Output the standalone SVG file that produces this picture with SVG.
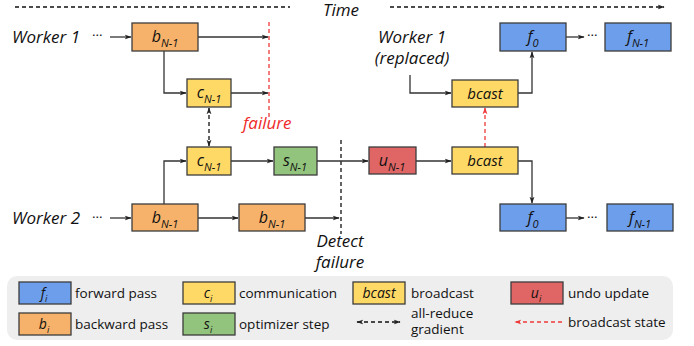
<svg xmlns="http://www.w3.org/2000/svg" width="694" height="346" viewBox="0 0 694 346">
  <style>
    .lbl { font-family: "Open Sans", "DejaVu Sans", sans-serif; font-style: italic; fill: #111; }
    .big { font-size: 17px; }
    .box-t { font-size: 16px; text-anchor: middle; }
    .sub { font-size: 11px; }
    .leg { font-family: "Open Sans", "DejaVu Sans", sans-serif; font-size: 13.5px; fill: #111; }
    .box { stroke: #3c3c3c; stroke-width: 1.3; }
    .fw { fill: #6d9eeb; }
    .bw { fill: #f6b26b; }
    .cm { fill: #ffd966; }
    .op { fill: #93c47d; }
    .un { fill: #e06666; }
    .ln { fill: none; stroke: #333; stroke-width: 1.3; }
    .dash { fill: none; stroke: #111; stroke-width: 1.3; stroke-dasharray: 4 3; }
    .rdash { fill: none; stroke: #ee3a3a; stroke-width: 1.3; stroke-dasharray: 4 3; }
  </style>
  <defs>
    <marker id="ah" viewBox="0 0 10 10" refX="9" refY="5" markerWidth="7" markerHeight="7" orient="auto-start-reverse" markerUnits="userSpaceOnUse">
      <path d="M0,1.5 L10,5 L0,8.5 L2.5,5 z" fill="#222"/>
    </marker>
    <marker id="ahr" viewBox="0 0 10 10" refX="9" refY="5" markerWidth="7" markerHeight="7" orient="auto-start-reverse" markerUnits="userSpaceOnUse">
      <path d="M0,1.5 L10,5 L0,8.5 L2.5,5 z" fill="#ee3a3a"/>
    </marker>
  </defs>

  <!-- time axis -->
  <g id="time-axis">
    <line x1="15" y1="7" x2="290" y2="7" class="dash"/>
    <line x1="390" y1="7" x2="664" y2="7" class="dash" marker-end="url(#ah)"/>
    <text x="323" y="16" class="lbl big">Time</text>
  </g>

  <!-- markers: failure and detection -->
  <g id="failure-marker">
    <line x1="269" y1="22" x2="269" y2="118" class="rdash"/>
    <text x="243" y="129" class="lbl big" style="fill:#ee2a2a">failure</text>
  </g>
  <g id="detect-marker">
    <line x1="341" y1="140" x2="341" y2="234" class="dash"/>
    <text x="340" y="247" class="lbl big" text-anchor="middle">Detect</text>
    <text x="340" y="268" class="lbl big" text-anchor="middle">failure</text>
  </g>

  <!-- worker labels -->
  <g id="worker1-label">
    <text x="12" y="43" class="lbl big">Worker 1</text>
    <text x="92" y="40" class="leg">···</text>
  </g>
  <g id="worker2-label">
    <text x="12" y="224" class="lbl big">Worker 2</text>
    <text x="92" y="222" class="leg">···</text>
  </g>
  <g id="worker1r-label">
    <text x="412" y="43" class="lbl big" text-anchor="middle">Worker 1</text>
    <text x="412" y="64" class="lbl big" text-anchor="middle">(replaced)</text>
  </g>

  <!-- connectors -->
  <g id="connectors">
    <line x1="110" y1="37" x2="131" y2="37" class="ln" marker-end="url(#ah)"/>
    <line x1="198" y1="37" x2="268" y2="37" class="ln" marker-end="url(#ah)"/>
    <polyline points="164,51 164,93 186,93" class="ln" marker-end="url(#ah)"/>
    <line x1="231" y1="93" x2="268" y2="93" class="ln" marker-end="url(#ah)"/>
    <line x1="209" y1="108" x2="209" y2="146" class="dash" marker-start="url(#ah)" marker-end="url(#ah)"/>

    <line x1="110" y1="218" x2="131" y2="218" class="ln" marker-end="url(#ah)"/>
    <polyline points="164,204 164,161 186,161" class="ln" marker-end="url(#ah)"/>
    <line x1="198" y1="218" x2="238" y2="218" class="ln" marker-end="url(#ah)"/>
    <line x1="305" y1="218" x2="339" y2="218" class="ln" marker-end="url(#ah)"/>
    <line x1="231" y1="161" x2="273" y2="161" class="ln" marker-end="url(#ah)"/>
    <line x1="317" y1="161" x2="368" y2="161" class="ln" marker-end="url(#ah)"/>
    <line x1="416" y1="161" x2="451" y2="161" class="ln" marker-end="url(#ah)"/>
    <polyline points="518,161 532,161 532,203" class="ln" marker-end="url(#ah)"/>
    <line x1="566" y1="218" x2="584" y2="218" class="ln" marker-end="url(#ah)"/>

    <polyline points="410,75 410,93 451,93" class="ln" marker-end="url(#ah)"/>
    <polyline points="518,93 532,93 532,52" class="ln" marker-end="url(#ah)"/>
    <line x1="566" y1="37" x2="584" y2="37" class="ln" marker-end="url(#ah)"/>
    <line x1="485" y1="147" x2="485" y2="108" class="rdash" marker-end="url(#ahr)"/>
    <text x="587" y="40" class="leg">···</text>
    <text x="587" y="222" class="leg">···</text>
  </g>

  <!-- worker 1 nodes -->
  <g id="w1-b">
    <rect x="132" y="23" width="66" height="28" class="box bw"/>
    <text x="165" y="42" class="lbl box-t">b<tspan class="sub" dy="5">N-1</tspan></text>
  </g>
  <g id="w1-c">
    <rect x="187" y="79" width="44" height="28" class="box cm"/>
    <text x="209" y="98" class="lbl box-t">c<tspan class="sub" dy="5">N-1</tspan></text>
  </g>

  <!-- worker 2 nodes -->
  <g id="w2-c">
    <rect x="187" y="147" width="44" height="28" class="box cm"/>
    <text x="209" y="166" class="lbl box-t">c<tspan class="sub" dy="5">N-1</tspan></text>
  </g>
  <g id="w2-s">
    <rect x="274" y="147" width="43" height="28" class="box op"/>
    <text x="295" y="166" class="lbl box-t">s<tspan class="sub" dy="5">N-1</tspan></text>
  </g>
  <g id="w2-u">
    <rect x="369" y="147" width="47" height="27" class="box un"/>
    <text x="392" y="166" class="lbl box-t">u<tspan class="sub" dy="5">N-1</tspan></text>
  </g>
  <g id="w2-bcast">
    <rect x="452" y="147" width="66" height="27" class="box cm"/>
    <text x="485" y="166" class="lbl box-t" style="font-size:15px">bcast</text>
  </g>
  <g id="w2-b1">
    <rect x="132" y="204" width="66" height="27" class="box bw"/>
    <text x="165" y="223" class="lbl box-t">b<tspan class="sub" dy="5">N-1</tspan></text>
  </g>
  <g id="w2-b2">
    <rect x="239" y="204" width="66" height="27" class="box bw"/>
    <text x="272" y="223" class="lbl box-t">b<tspan class="sub" dy="5">N-1</tspan></text>
  </g>
  <g id="w2-f0">
    <rect x="500" y="204" width="66" height="27" class="box fw"/>
    <text x="533" y="223" class="lbl box-t">f<tspan class="sub" dy="5">0</tspan></text>
  </g>
  <g id="w2-fN">
    <rect x="607" y="204" width="66" height="27" class="box fw"/>
    <text x="640" y="223" class="lbl box-t">f<tspan class="sub" dy="5">N-1</tspan></text>
  </g>

  <!-- replaced worker 1 nodes -->
  <g id="w1r-bcast">
    <rect x="452" y="80" width="66" height="27" class="box cm"/>
    <text x="485" y="99" class="lbl box-t" style="font-size:15px">bcast</text>
  </g>
  <g id="w1r-f0">
    <rect x="500" y="23" width="66" height="28" class="box fw"/>
    <text x="533" y="42" class="lbl box-t">f<tspan class="sub" dy="5">0</tspan></text>
  </g>
  <g id="w1r-fN">
    <rect x="605" y="23" width="66" height="28" class="box fw"/>
    <text x="638" y="42" class="lbl box-t">f<tspan class="sub" dy="5">N-1</tspan></text>
  </g>

  <!-- legend -->
  <g id="legend">
    <rect x="7" y="276" width="666" height="64" rx="10" fill="#eeeeee"/>
    <rect x="19" y="282" width="52" height="22" class="box fw"/>
    <text x="44" y="298" class="lbl" style="font-size:14px" text-anchor="middle">f<tspan style="font-size:9px" dy="4">i</tspan></text>
    <text x="75" y="298" class="leg">forward pass</text>

    <rect x="19" y="313" width="52" height="22" class="box bw"/>
    <text x="44" y="329" class="lbl" style="font-size:14px" text-anchor="middle">b<tspan style="font-size:9px" dy="4">i</tspan></text>
    <text x="75" y="329" class="leg">backward pass</text>

    <rect x="183" y="282" width="52" height="22" class="box cm"/>
    <text x="208" y="298" class="lbl" style="font-size:14px" text-anchor="middle">c<tspan style="font-size:9px" dy="4">i</tspan></text>
    <text x="239" y="298" class="leg">communication</text>

    <rect x="183" y="313" width="52" height="22" class="box op"/>
    <text x="208" y="329" class="lbl" style="font-size:14px" text-anchor="middle">s<tspan style="font-size:9px" dy="4">i</tspan></text>
    <text x="239" y="329" class="leg">optimizer step</text>

    <rect x="353" y="282" width="52" height="22" class="box cm"/>
    <text x="379" y="298" class="lbl" style="font-size:14px" text-anchor="middle">bcast</text>
    <text x="411" y="298" class="leg">broadcast</text>

    <line x1="357" y1="322" x2="400" y2="322" class="dash" marker-start="url(#ah)" marker-end="url(#ah)"/>
    <text x="411" y="318" class="leg">all-reduce</text>
    <text x="411" y="334" class="leg">gradient</text>

    <rect x="511" y="282" width="52" height="22" class="box un"/>
    <text x="536" y="298" class="lbl" style="font-size:14px" text-anchor="middle">u<tspan style="font-size:9px" dy="4">i</tspan></text>
    <text x="568" y="298" class="leg">undo update</text>

    <line x1="562" y1="322" x2="515" y2="322" class="rdash" marker-end="url(#ahr)"/>
    <text x="568" y="327" class="leg">broadcast state</text>
  </g>
</svg>
